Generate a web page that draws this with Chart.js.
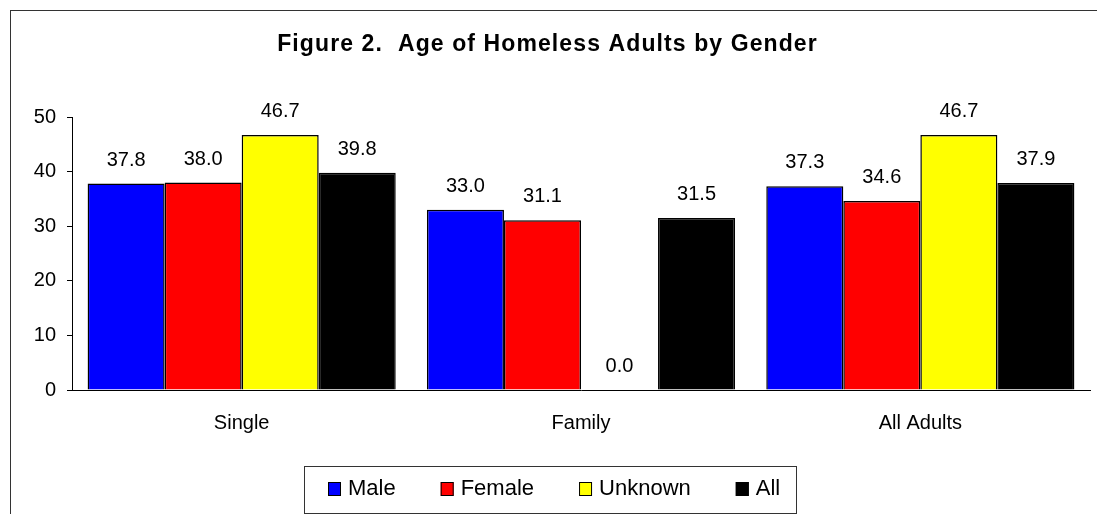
<!DOCTYPE html>
<html>
<head>
<meta charset="utf-8">
<script src="https://cdn.jsdelivr.net/npm/chart.js@4.4.1/dist/chart.umd.min.js"></script>
<style>
  html, body { margin: 0; padding: 0; background: #fff; }
  #wrap { position: relative; width: 1097px; height: 514px; }
</style>
</head>
<body>
<div id="wrap"><canvas id="chart"></canvas></div>
<script>
// data
const categories = ["Single", "Family", "All Adults"];
const maleAge = [37.8, 33.0, 37.3];
const femaleAge = [38.0, 31.1, 34.6];
const unknownAge = [46.7, 0.0, 46.7];
const allAge = [39.8, 31.5, 37.9];
const yTicks = [0, 10, 20, 30, 40, 50];

const titleText = "Figure 2.  Age of Homeless Adults by Gender";
const FONT = "'Liberation Sans', Arial, sans-serif";

// outer frame, title and boxed legend drawn by hand (Excel look)
const framePlugin = {
  id: "frame",
  beforeDraw(chart) {
    const ctx = chart.ctx;
    ctx.save();
    ctx.fillStyle = "#fff";
    ctx.fillRect(0, 0, chart.width, chart.height);
    ctx.strokeStyle = "#333";
    ctx.lineWidth = 1;
    ctx.strokeRect(10.5, 10.5, chart.width + 20, chart.height + 20);
    ctx.restore();
  },
  afterDraw(chart) {
    const ctx = chart.ctx;
    ctx.save();
    ctx.font = "bold 23px " + FONT;
    ctx.letterSpacing = "1.1px";
    ctx.fillStyle = "#000";
    ctx.textAlign = "center";
    ctx.textBaseline = "alphabetic";
    ctx.fillText(titleText, chart.width / 2 - 1, 51);
    ctx.restore();

    // legend
    ctx.save();
    ctx.font = "22px " + FONT;
    const items = chart.data.datasets.map(ds => ({ label: ds.label, color: ds.backgroundColor, w: ctx.measureText(ds.label).width }));
    const boxW = 13, boxH = 14, boxGap = 7, itemGap = 45;
    let rowW = 0;
    items.forEach((it, i) => { rowW += boxW + boxGap + it.w + (i < items.length - 1 ? itemGap : 0); });
    const frameW = rowW + 40;
    const frameL = Math.round(chart.width / 2 + 2 - frameW / 2);
    const top = 466, bottom = 513;
    ctx.strokeStyle = "#333";
    ctx.lineWidth = 1;
    ctx.strokeRect(frameL + 0.5, top + 0.5, Math.round(frameW), bottom - top);
    let x = frameL + 24;
    ctx.textAlign = "left";
    ctx.textBaseline = "alphabetic";
    items.forEach(it => {
      ctx.fillStyle = it.color;
      ctx.fillRect(x, 482, boxW, boxH);
      ctx.strokeStyle = "#000";
      ctx.strokeRect(x + 0.5, 482.5, boxW - 1, boxH - 1);
      ctx.fillStyle = "#000";
      ctx.fillText(it.label, x + boxW + boxGap, 495);
      x += boxW + boxGap + it.w + itemGap;
    });
    ctx.restore();
  }
};

// value labels over each bar
const valueLabels = {
  id: "valueLabels",
  afterDatasetsDraw(chart) {
    const ctx = chart.ctx;
    ctx.save();
    ctx.font = "20px " + FONT;
    ctx.fillStyle = "#000";
    ctx.textAlign = "center";
    ctx.textBaseline = "alphabetic";
    chart.data.datasets.forEach((ds, i) => {
      const meta = chart.getDatasetMeta(i);
      meta.data.forEach((bar, j) => {
        ctx.fillText(ds.data[j].toFixed(1), bar.x, bar.y - 18);
      });
    });
    ctx.restore();
  }
};

const mkSet = (label, data, color) => ({
  label: label,
  data: data,
  backgroundColor: color,
  borderColor: "#000",
  borderWidth: 1.5,
  borderSkipped: "bottom",
  categoryPercentage: 0.908,
  barPercentage: 1.0
});

new Chart(document.getElementById("chart"), {
  type: "bar",
  data: {
    labels: categories,
    datasets: [
      mkSet("Male", maleAge, "#0000ff"),
      mkSet("Female", femaleAge, "#ff0000"),
      mkSet("Unknown", unknownAge, "#ffff00"),
      mkSet("All", allAge, "#000000")
    ]
  },
  options: {
    responsive: true,
    maintainAspectRatio: false,
    animation: false,
    layout: { padding: { top: 117, left: 22, right: 7, bottom: 48 } },
    scales: {
      x: {
        grid: { display: false },
        border: { display: true, color: "#000", width: 1 },
        ticks: { color: "#000", font: { family: FONT, size: 20 }, padding: 13 },
        afterFit(scale) { scale.height = 76; }
      },
      y: {
        min: 0,
        max: 50,
        afterBuildTicks(scale) { scale.ticks = yTicks.map(v => ({ value: v })); },
        grid: { drawOnChartArea: false, drawTicks: true, tickLength: 5, color: "#000" },
        border: { display: true, color: "#000", width: 1 },
        ticks: { color: "#000", font: { family: FONT, size: 20 }, padding: 11 },
        afterFit(scale) { scale.width = 50; }
      }
    },
    plugins: {
      title: { display: false },
      tooltip: { enabled: false },
      legend: { display: false }
    }
  },
  plugins: [framePlugin, valueLabels]
});
</script>
</body>
</html>
